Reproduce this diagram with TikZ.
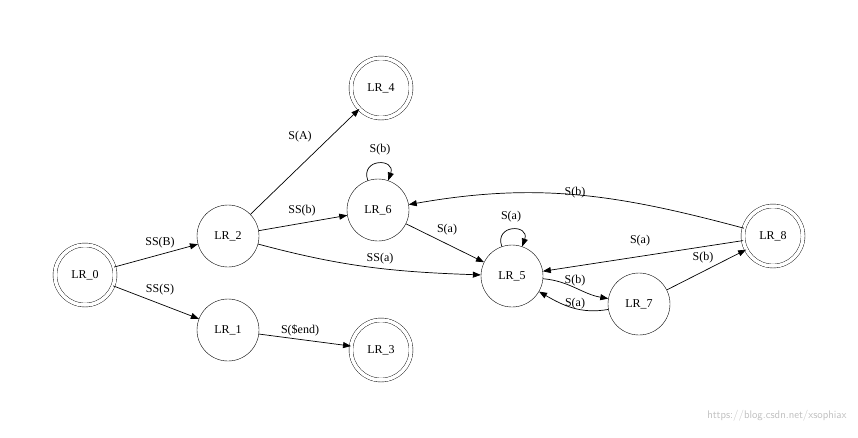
\documentclass[tikz,border=0pt]{standalone}
\usepackage{fontspec}
\setmainfont{Liberation Serif}
\usetikzlibrary{arrows.meta}
\begin{document}
\begin{tikzpicture}[x=1pt,y=-1pt,
  st/.style={draw,circle,minimum size=62pt,inner sep=0pt,font=\fontsize{12}{14}\selectfont},
  acc/.style={st,double,double distance=3.5pt,minimum size=60pt},
  ed/.style={-{Triangle[length=8pt,width=6pt]},line width=0.7pt},
  lb/.style={font=\fontsize{12}{14}\selectfont,inner sep=1pt}]
\useasboundingbox (0,0) rectangle (858,437);
\node[acc] (n0) at (85,275) {LR\_0};
\node[st] (n2) at (228,236) {LR\_2};
\node[st] (n1) at (228,330) {LR\_1};
\node[acc] (n4) at (381,88) {LR\_4};
\node[st] (n6) at (378,210) {LR\_6};
\node[acc] (n3) at (381,350) {LR\_3};
\node[st] (n5) at (512,276) {LR\_5};
\node[st] (n7) at (639,304) {LR\_7};
\node[acc] (n8) at (773,236) {LR\_8};
\draw[ed] (n0) -- (n2);
\draw[ed] (n0) -- (n1);
\draw[ed] (n2) -- (n4);
\draw[ed] (n2) -- (n6);
\draw[ed] (n2) to[out=-15,in=178] (n5);
\draw[ed] (n6) .. controls (360,158) and (396,158) .. (n6);
\draw[ed] (n6) -- (n5);
\draw[ed] (n5) .. controls (494,224) and (530,224) .. (n5);
\draw[ed] (n5) to[out=-5,in=170] (n7);
\draw[ed] (n7) to[out=-170,in=-30] (n5);
\draw[ed] (n7) -- (n8);
\draw[ed] (n8) -- (n5);
\draw[ed] (n8) to[out=165,in=10] (n6);
\draw[ed] (n1) -- (n3);
\node[lb] (l1) at (160,243) {SS(B)};
\node[lb] (l2) at (160,290) {SS(S)};
\node[lb] (l3) at (300,137) {S(A)};
\node[lb] (l4) at (302,211) {SS(b)};
\node[lb] (l5) at (380,259) {SS(a)};
\node[lb] (l6) at (380,150) {S(b)};
\node[lb] (l7) at (447,230) {S(a)};
\node[lb] (l8) at (511,217) {S(a)};
\node[lb] (l9) at (575,281) {S(b)};
\node[lb] (l10) at (575,304) {S(a)};
\node[lb] (l11) at (703,258) {S(b)};
\node[lb] (l12) at (640,241) {S(a)};
\node[lb] (l13) at (575,193) {S(b)};
\node[lb] (l14) at (300,330) {S(\$end)};
\node[font=\sffamily\fontsize{11}{13}\selectfont,text=black!25,anchor=east] (wm) at (850,416) {https://blog.csdn.net/xsophiax};
\end{tikzpicture}
\end{document}
